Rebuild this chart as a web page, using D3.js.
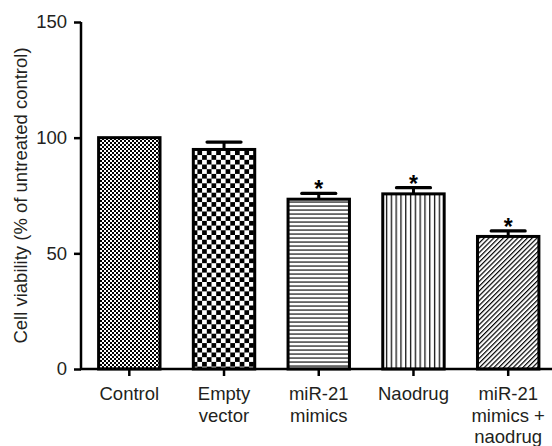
<!DOCTYPE html>
<html>
<head>
<meta charset="utf-8">
<script src="https://cdn.jsdelivr.net/npm/d3@7"></script>
<style>
  body { margin: 0; background: #fff; }
  svg text { font-family: "Liberation Sans", Arial, Helvetica, sans-serif; fill: #231f20; }
</style>
</head>
<body>
<svg id="canvas"></svg>
<script>
let groups = ['Control', 'Empty vector', 'miR-21 mimics', 'Naodrug', 'miR-21 mimics + naodrug']
let labelLines = [['Control'], ['Empty', 'vector'], ['miR-21', 'mimics'], ['Naodrug'], ['miR-21', 'mimics +', 'naodrug']]
let values = [100, 94.9, 73.4, 75.7, 57.3]
let errors = [0, 3.2, 2.5, 2.7, 2.4]
let significant = [false, false, true, true, true]
let yTicks = [0, 50, 100, 150]
let yTitle = 'Cell viability (% of untreated control)'
let patterns = ['fine-check', 'coarse-check', 'h-lines', 'v-lines', 'diag']

let width = 552
let height = 446
let axisX = 81
let baseY = 369
let topY = 22

let canvas = d3.select('#canvas')
canvas.attr('width', width)
      .attr('height', height)

let xScale = d3.scaleBand()
               .domain(groups)
               .range([axisX, axisX + 475.5])
               .paddingInner(0.32)
               .paddingOuter(0.17)

let yScale = d3.scaleLinear()
               .domain([0, 150])
               .range([baseY, topY])

// fill patterns
let defs = canvas.append('defs')

let p = defs.append('pattern').attr('id', 'fine-check')
            .attr('patternUnits', 'userSpaceOnUse').attr('width', 4).attr('height', 4)
p.append('rect').attr('width', 4).attr('height', 4).attr('fill', '#fff')
p.append('rect').attr('width', 2).attr('height', 2).attr('fill', '#000')
p.append('rect').attr('x', 2).attr('y', 2).attr('width', 2).attr('height', 2).attr('fill', '#000')

p = defs.append('pattern').attr('id', 'coarse-check')
        .attr('patternUnits', 'userSpaceOnUse').attr('width', 9.4).attr('height', 9.4)
p.append('rect').attr('width', 9.4).attr('height', 9.4).attr('fill', '#fff')
p.append('rect').attr('width', 4.7).attr('height', 4.7).attr('fill', '#000')
p.append('rect').attr('x', 4.7).attr('y', 4.7).attr('width', 4.7).attr('height', 4.7).attr('fill', '#000')

p = defs.append('pattern').attr('id', 'h-lines')
        .attr('patternUnits', 'userSpaceOnUse').attr('width', 4).attr('height', 4)
p.append('rect').attr('width', 4).attr('height', 4).attr('fill', '#fff')
p.append('rect').attr('y', 1.5).attr('width', 4).attr('height', 1.1).attr('fill', '#000')

p = defs.append('pattern').attr('id', 'v-lines')
        .attr('patternUnits', 'userSpaceOnUse').attr('width', 4.8).attr('height', 4)
p.append('rect').attr('width', 4.8).attr('height', 4).attr('fill', '#fff')
p.append('rect').attr('x', 2).attr('width', 1.2).attr('height', 4).attr('fill', '#000')

p = defs.append('pattern').attr('id', 'diag')
        .attr('patternUnits', 'userSpaceOnUse').attr('width', 3.4).attr('height', 3.4)
        .attr('patternTransform', 'rotate(45)')
p.append('rect').attr('width', 3.4).attr('height', 3.4).attr('fill', '#fff')
p.append('rect').attr('width', 1.2).attr('height', 3.4).attr('fill', '#000')

let data = groups.map((g, i) => ({ group: g, value: values[i], err: errors[i], sig: significant[i], pat: patterns[i] }))

// error bars (upper half only)
let errs = canvas.selectAll('.err')
                 .data(data.filter(d => d.err > 0))
                 .enter()
                 .append('g')
                 .attr('class', 'err')
errs.append('line')
    .attr('x1', d => xScale(d.group) + xScale.bandwidth() / 2)
    .attr('x2', d => xScale(d.group) + xScale.bandwidth() / 2)
    .attr('y1', d => yScale(d.value))
    .attr('y2', d => yScale(d.value + d.err))
    .attr('stroke', '#000').attr('stroke-width', 3)
errs.append('line')
    .attr('x1', d => xScale(d.group) + xScale.bandwidth() / 2 - 17)
    .attr('x2', d => xScale(d.group) + xScale.bandwidth() / 2 + 17)
    .attr('y1', d => yScale(d.value + d.err))
    .attr('y2', d => yScale(d.value + d.err))
    .attr('stroke', '#000').attr('stroke-width', 3.2).attr('stroke-linecap', 'round')

// bars
canvas.selectAll('.bar')
      .data(data)
      .enter()
      .append('rect')
      .attr('class', 'bar')
      .attr('x', d => xScale(d.group) + 1.5)
      .attr('y', d => yScale(d.value))
      .attr('width', xScale.bandwidth() - 3)
      .attr('height', d => baseY - yScale(d.value))
      .attr('fill', d => 'url(#' + d.pat + ')')
      .attr('stroke', '#000')
      .attr('stroke-width', 3)

// significance stars
canvas.selectAll('.star')
      .data(data.filter(d => d.sig))
      .enter()
      .append('text')
      .attr('class', 'star')
      .attr('x', d => xScale(d.group) + xScale.bandwidth() / 2)
      .attr('y', d => yScale(d.value + d.err) + 4)
      .attr('text-anchor', 'middle')
      .style('font-size', '23px')
      .style('font-weight', 'bold')
      .style('fill', '#000')
      .text('*')

// axes
let yAxis = d3.axisLeft(yScale)
              .tickValues(yTicks)
              .tickSize(7)
              .tickSizeOuter(0)
              .tickPadding(7)
let yg = canvas.append('g')
               .attr('transform', 'translate(' + axisX + ',0)')
               .call(yAxis)
yg.selectAll('path, line').attr('stroke', '#000').attr('stroke-width', 2.5)
yg.selectAll('text').style('font-size', '18.5px').attr('fill', '#231f20')
yg.select('.domain').attr('d', 'M0,' + topY + 'V' + baseY)

let xAxis = d3.axisBottom(xScale)
              .tickSize(7)
              .tickSizeOuter(0)
              .tickFormat('')
let xg = canvas.append('g')
               .attr('transform', 'translate(0,' + baseY + ')')
               .call(xAxis)
xg.selectAll('line').attr('stroke', '#000').attr('stroke-width', 2.5)
xg.select('.domain').attr('d', 'M' + (axisX - 1) + ',0H' + width)
                    .attr('stroke', '#000').attr('stroke-width', 2.5)

// multi-line category labels
canvas.selectAll('.xlabel')
      .data(groups)
      .enter()
      .append('text')
      .attr('class', 'xlabel')
      .attr('text-anchor', 'middle')
      .style('font-size', '18.5px')
      .each(function (g, i) {
        let t = d3.select(this)
        labelLines[i].forEach((line, j) => {
          t.append('tspan')
           .attr('x', xScale(g) + xScale.bandwidth() / 2)
           .attr('y', 400 + j * 21.5)
           .text(line)
        })
      })

// y title
canvas.append('text')
      .attr('transform', 'translate(27,' + (topY + baseY) / 2 + ') rotate(-90)')
      .attr('text-anchor', 'middle')
      .style('font-size', '18.5px')
      .text(yTitle)
</script>
</body>
</html>
